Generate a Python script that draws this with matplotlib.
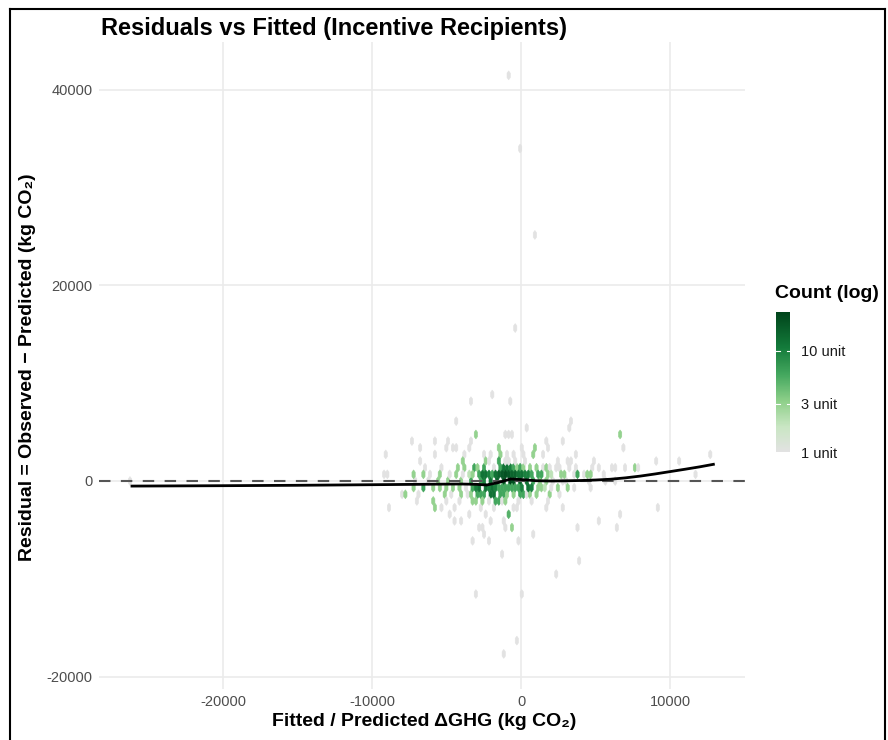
import numpy as np
import matplotlib
matplotlib.use("Agg")
import matplotlib.pyplot as plt
from matplotlib.colors import LogNorm, LinearSegmentedColormap
from matplotlib.lines import Line2D

plt.rcParams['font.family'] = ['Liberation Sans', 'DejaVu Sans']

# ---------------- data ----------------
# hex cells, grouped by row (residual value), with fitted x positions and counts
cell_rows_y = [41200, 34100, 25400, 15500, 9000, 8260, 6150, 5440,
               4760, 4080, 3400, 2720, 2040, 1360, 680, 0,
               -680, -1360, -2040, -2720, -3400, -4080, -4760, -5440,
               -6120, -7480, -8160, -9520, -11560, -16320, -18020]
cell_rows_x = [
    [-870],
    [-130],
    [870],
    [-330],
    [-1950],
    [-3450, -690],
    [-4340, 3380],
    [3310, 310],
    [-2950, -1130, -730, -550, 6560],
    [-7220, -5670, -5000, -3290, 1710, 2710],
    [-6690, -4960, -4560, -4340, -3400, -1580, -1400, 150, 930, 1710, 6940],
    [-9000, -5850, -3800, -2530, -1950, -1450, -870, -400, 130, 870, 1470, 3650, 12800],
    [-6780, -3850, -2400, -2070, -1580, -1070, -730, -290, 270, 2380, 3150, 3450, 4820, 4980,
     9120, 10670],
    [-6340, -5400, -4290, -3870, -3180, -2950, -2400, -1730, -1450, -1180, -950, -730, -510,
     -270, -70, 150, 600, 1070, 1380, 1730, 1930, 2330, 2670, 3270, 3600, 4820, 5270, 6200,
     6380, 7050, 7650, 7820],
    [-9200, -8870, -7200, -6540, -6000, -5400, -4730, -4270, -3850, -3400, -3180, -2850, -2530,
     -2290, -2070, -1850, -1600, -1400, -1180, -950, -730, -510, -290, -70, 150, 370, 600, 800,
     1070, 1270, 1470, 1710, 1930, 2130, 2600, 2930, 3490, 3760, 4170, 4560, 4720, 5600, 11670],
    [-26200, -7000, -6200, -5500, -4800, -4000, -3300, -2800, -2400, -2000, -1600, -1200, -800,
     -400, 0, 400, 800, 1200, 1700, 2200, 2710, 3100, 4600, 5650, 6420],
    [-7200, -6540, -5870, -5400, -4960, -4560, -4070, -3600, -3200, -2950, -2730, -2400, -2130,
     -1870, -1620, -1400, -1180, -950, -730, -510, -290, -70, 150, 400, 600, 800, 1050, 1270,
     1470, 1700, 1930, 2400, 3070, 3490, 4600],
    [-8000, -7870, -6940, -5200, -4730, -4070, -3600, -3400, -2950, -2730, -2400, -2070, -1870,
     -1730, -1400, -1200, -950, -510, -70, 150, 380, 600, 1050, 1930, 2600],
    [-6940, -5850, -4960, -4070, -3180, -2950, -2510, -2070, -1730, -1530, -1180, -950, -70,
     810, 1730],
    [-8800, -5850, -5400, -4470, -2730, -1870, -530, -270, 1730, 2800, 9120],
    [-4700, -3400, -2270, -800, 6760],
    [-4560, -4000, -2000, -1070, 5160],
    [-2780, -2620, -1070, -510, 3890, 6420],
    [-2560, 820],
    [-3250, -2070, -220, -70],
    [-1290],
    [3980],
    [2380],
    [-3070, 110],
    [-220],
    [-1180],
]
cell_rows_n = [
    [1],
    [1],
    [1],
    [1],
    [1],
    [1, 1],
    [1, 1],
    [1, 1],
    [3, 1, 1, 1, 3],
    [1, 1, 1, 1, 1, 1],
    [1, 1, 1, 1, 1, 3, 3, 1, 3, 1, 1],
    [1, 1, 1, 1, 1, 3, 1, 1, 1, 3, 1, 1, 1],
    [1, 3, 3, 1, 6, 1, 1, 1, 1, 1, 1, 1, 1, 1,
     1, 1],
    [1, 1, 3, 3, 6, 3, 6, 1, 6, 12, 12, 10, 6,
     3, 6, 3, 3, 3, 1, 3, 1, 1, 1, 1, 1, 1, 1, 1,
     1, 1, 3, 1],
    [1, 1, 3, 3, 1, 3, 1, 3, 1, 2, 3, 6, 12,
     12, 10, 6, 12, 15, 18, 20, 18, 15, 15, 12, 12, 10, 10, 6,
     6, 6, 3, 3, 2, 1, 3, 3, 1, 6, 1, 3, 3, 1, 1],
    [1, 1, 1, 3, 3, 3, 6, 6, 10, 12, 15, 20, 24,
     20, 15, 12, 6, 3, 3, 1, 1, 1, 1, 1, 1],
    [3, 6, 3, 3, 3, 3, 3, 1, 6, 10, 12, 12, 10,
     12, 10, 6, 6, 6, 6, 6, 6, 6, 10, 12, 10, 10, 3, 3,
     3, 2, 1, 3, 3, 1, 1],
    [1, 3, 1, 3, 1, 3, 1, 3, 6, 6, 6, 12, 12,
     6, 6, 6, 3, 3, 6, 6, 1, 3, 3, 3, 1],
    [1, 3, 1, 1, 3, 3, 3, 1, 6, 6, 1, 3, 1,
     1, 1],
    [1, 3, 1, 1, 1, 1, 1, 1, 1, 1, 1],
    [1, 1, 1, 5, 1],
    [1, 1, 1, 1, 1],
    [1, 1, 1, 3, 1, 1],
    [1, 1],
    [1, 1, 1, 1],
    [1],
    [1],
    [1],
    [1, 1],
    [1],
    [1],
]

# LOESS-type smooth curve through the residuals
smooth_x = [-26200, -20000, -15000, -10000, -6000, -4000, -3000, -2300, -1500, -700, 0,
            1000, 2000, 3000, 4000, 5000, 6000, 7000, 8000, 9000, 10000, 11000, 12000, 13000]
smooth_y = [-520, -480, -440, -380, -330, -310, -340, -410, -150, 200, 150,
            30, 0, 20, 50, 100, 180, 320, 500, 720, 960, 1200, 1450, 1730]

x_ticks = [-20000, -10000, 0, 10000]
x_tick_labels = ["-20000", "-10000", "0", "10000"]
y_ticks = [-20000, 0, 20000, 40000]
y_tick_labels = ["-20000", "0", "20000", "40000"]
cbar_ticks = [1, 3, 10]
cbar_tick_labels = ["1 unit", "3 unit", "10 unit"]

title = "Residuals vs Fitted (Incentive Recipients)"
x_label = "Fitted / Predicted \u0394GHG (kg CO\u2082)"
y_label = "Residual = Observed \u2212 Predicted (kg CO\u2082)"
legend_title = "Count (log)"

# ---------------- figure ----------------
W, H = 888, 740
fig = plt.figure(figsize=(W / 100, H / 100), dpi=100)
fig.patch.set_facecolor("white")

ax_l, ax_r, ax_t, ax_b = 99, 745, 42, 689
ax = fig.add_axes([ax_l / W, 1 - ax_b / H, (ax_r - ax_l) / W, (ax_b - ax_t) / H])
ax.set_facecolor("white")

xs, ys, ns = [], [], []
for yv, xr, nr in zip(cell_rows_y, cell_rows_x, cell_rows_n):
    for xv, nv in zip(xr, nr):
        xs.append(xv)
        ys.append(yv)
        ns.append(nv)
xs = np.array(xs, float)
ys = np.array(ys, float)
ns = np.array(ns, float)

cmap = LinearSegmentedColormap.from_list(
    "greys_greens",
    [(0.0, "#e2e2e2"), (0.18, "#c9e6c3"), (0.36, "#8fd08a"), (0.55, "#45a85f"),
     (0.75, "#137a3a"), (1.0, "#00441b")])
norm = LogNorm(vmin=1, vmax=24.3)

hb = ax.hexbin(xs, ys, C=ns, reduce_C_function=np.max, gridsize=(195, 49),
               extent=(-28000, 14900, -21760, 44880), cmap=cmap, norm=norm,
               edgecolors="face", linewidths=0.4, zorder=2)

ax.axhline(0, color="#555555", lw=1.5, ls=(0, (5.5, 5.0)), zorder=3)
ax.plot(smooth_x, smooth_y, color="black", lw=2.0, zorder=4, solid_capstyle="butt")

ax.set_xlim(-28320, 15030)
ax.set_ylim(-21270, 44890)
ax.set_xticks(x_ticks)
ax.set_xticklabels(x_tick_labels)
ax.set_yticks(y_ticks)
ax.set_yticklabels(y_tick_labels)
ax.grid(True, color="#ebebeb", lw=1.2, zorder=0)
ax.set_axisbelow(True)
ax.tick_params(length=0, labelsize=10.5, labelcolor="#4d4d4d")
ax.tick_params(axis="y", pad=4.5)
ax.tick_params(axis="x", pad=4)
for s in ax.spines.values():
    s.set_visible(False)

fig.text(101 / W, 1 - 28.5 / H, title, fontsize=17, fontweight="bold",
         ha="left", va="center", color="black")
fig.text(424 / W, 1 - 721 / H, x_label, fontsize=14, fontweight="bold",
         ha="center", va="center")
fig.text(28 / W, 1 - 367 / H, y_label, fontsize=14, fontweight="bold",
         ha="center", va="center", rotation=90)

# colorbar
cax = fig.add_axes([776 / W, 1 - 452 / H, 14 / W, 140 / H])
cb = fig.colorbar(hb, cax=cax)
cb.outline.set_visible(False)
cb.set_ticks(cbar_ticks)
cb.set_ticklabels(cbar_tick_labels)
cb.minorticks_off()
cax.tick_params(length=0, labelsize=10.5, labelcolor="#1a1a1a", pad=8)
for t in cbar_ticks[1:]:
    cax.plot([0, 0.25], [t, t], color="white", lw=0.8, transform=cax.get_yaxis_transform())
    cax.plot([0.75, 1], [t, t], color="white", lw=0.8, transform=cax.get_yaxis_transform())
fig.text(775 / W, 1 - 293 / H, legend_title, fontsize=14, fontweight="bold",
         ha="left", va="center")

# outer frame
frame_kw = dict(color="black", lw=1.5, transform=fig.transFigure)
fig.add_artist(Line2D([9.5 / W, 9.5 / W], [0, 1 - 8.5 / H], **frame_kw))
fig.add_artist(Line2D([9.5 / W, 884.5 / W], [1 - 8.5 / H, 1 - 8.5 / H], **frame_kw))
fig.add_artist(Line2D([884.5 / W, 884.5 / W], [0, 1 - 8.5 / H], **frame_kw))

fig.savefig("out.png", dpi=100)
